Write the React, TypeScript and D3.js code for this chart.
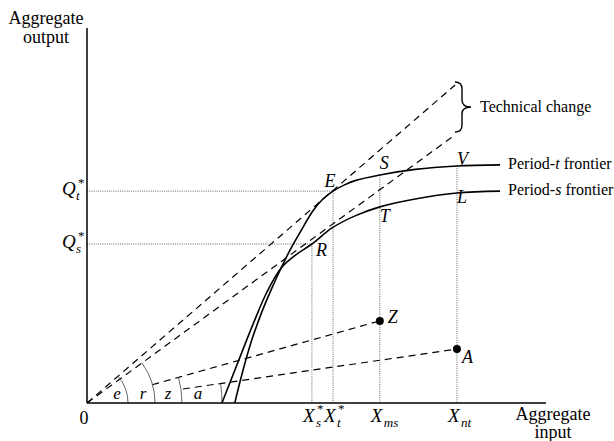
import React from "react";
import * as d3 from "d3";

// frontiers, [aggregate input, aggregate output]
const periodS: [number, number][] = [
  [29.4, 0], [32.9, 10.9], [36.2, 21.1], [39.2, 29.6], [42.3, 36.0], [45.5, 39.5],
  [49.0, 42.4], [53.4, 46.7], [58.4, 49.9], [63.8, 52.3], [71.5, 54.4], [80.6, 56.0], [90.0, 56.5],
];
const periodT: [number, number][] = [
  [32.2, 0], [34.0, 8.8], [35.9, 16.8], [38.1, 24.3], [40.3, 30.7], [42.3, 36.0], [44.2, 40.7],
  [46.8, 46.3], [49.2, 51.2], [51.4, 54.4], [53.6, 56.5], [56.0, 58.1], [58.4, 59.3], [63.8, 60.8],
  [71.5, 62.3], [80.6, 63.2], [90.0, 63.5],
];

// input levels and output levels on the axes
const inputLevels = [
  { value: 49.0, sub: "s", star: true },
  { value: 53.6, sub: "t", star: true },
  { value: 63.8, sub: "ms", star: false },
  { value: 80.6, sub: "nt", star: false },
];
const outputLevels = [
  { value: 56.5, sub: "t" },
  { value: 42.4, sub: "s" },
];

// labelled points
const pointNames = ["E", "R", "S", "T", "V", "L", "Z", "A"];
const pointX = [53.6, 49.0, 63.8, 63.8, 80.6, 80.6, 63.8, 80.6];
const pointY = [56.5, 42.4, 60.8, 52.3, 63.2, 56.0, 21.9, 14.4];

// rays from the origin: name, start input, end point
const rayNames = ["e", "r", "z", "a"];
const rayStart = [0, 0, 14.2, 20.9];
const rayEnd: [number, number][] = [[80.2, 84.8], [80.2, 71.5], [63.8, 21.9], [80.6, 14.4]];

const W = 614;
const H = 441;
const serif = "'Liberation Serif', 'Times New Roman', 'DejaVu Serif', serif";

const x = d3.scaleLinear().domain([0, 100]).range([87, 546]);
const y = d3.scaleLinear().domain([0, 100]).range([403, 28]);

const line = d3.line<[number, number]>()
  .x(d => x(d[0]))
  .y(d => y(d[1]))
  .curve(d3.curveCatmullRom.alpha(0.5));

const arcRadius = [41, 68, 95, 135];
const arcLabelR = [30, 56, 81, 111];

const labelOffset: Record<string, [number, number, string]> = {
  E: [-3, -4, "middle"],
  R: [4, 12, "start"],
  S: [0, -6, "start"],
  T: [0, 15, "start"],
  V: [0, -1, "start"],
  L: [0, 10, "start"],
  Z: [8, 2, "start"],
  A: [5, 14, "start"],
};

export default function App() {
  const ox = x(0), oy = y(0);
  const levelTop = (v: number) => {
    // dotted vertical goes up to E, R, S or V
    const i = pointX.findIndex((p, k) => p === v && ["E", "R", "S", "V"].includes(pointNames[k]));
    return y(pointY[i]);
  };

  return (
    <div style={{ position: "absolute", left: 0, top: 0 }}>
      <svg width={W} height={H} style={{ display: "block", background: "#fff", fontFamily: serif }}>
        {/* dotted guides */}
        <g stroke="#666" strokeWidth={1} strokeDasharray="1,1.2" fill="none">
          {outputLevels.map((q, i) => (
            <line key={"h" + i} x1={ox} x2={x(inputLevels[1 - i].value)} y1={y(q.value)} y2={y(q.value)} />
          ))}
          {inputLevels.map((l, i) => (
            <line key={"v" + i} x1={x(l.value)} x2={x(l.value)} y1={levelTop(l.value)} y2={oy} />
          ))}
        </g>

        {/* rays */}
        <g stroke="#000" strokeWidth={1.2} strokeDasharray="7,5" fill="none">
          {rayNames.map((n, i) => {
            const [ex, ey] = rayEnd[i];
            const t = rayStart[i] / ex;
            return (
              <line key={n} x1={x(ex * t)} y1={y(ey * t)} x2={x(ex)} y2={y(ey)} />
            );
          })}
        </g>

        {/* angle arcs */}
        <g stroke="#555" strokeWidth={0.9} fill="none">
          {rayNames.map((n, i) => {
            const [ex, ey] = rayEnd[i];
            const ang = Math.atan2(oy - y(ey), x(ex) - ox);
            const r = arcRadius[i];
            const arc = d3.path();
            arc.moveTo(ox + r, oy);
            arc.arc(ox, oy, r, 0, -ang, true);
            return <path key={n} d={arc.toString()} />;
          })}
        </g>
        {rayNames.map((n, i) => (
          <text key={n} x={ox + arcLabelR[i]} y={oy - 4} fontSize={17} fontStyle="italic" textAnchor="middle">{n}</text>
        ))}

        {/* frontiers */}
        <path d={line(periodS) ?? ""} fill="none" stroke="#000" strokeWidth={1.6} />
        <path d={line(periodT) ?? ""} fill="none" stroke="#000" strokeWidth={1.6} />

        {/* axes */}
        <line x1={ox} x2={ox} y1={y(100)} y2={oy} stroke="#000" strokeWidth={1.5} />
        <line x1={ox} x2={x(100)} y1={oy} y2={oy} stroke="#000" strokeWidth={1.5} />

        {/* points Z and A */}
        {pointNames.map((n, i) => (n === "Z" || n === "A") ? (
          <circle key={n} cx={x(pointX[i])} cy={y(pointY[i])} r={4} fill="#000" />
        ) : null)}

        {/* point labels */}
        {pointNames.map((n, i) => {
          const [dx, dy, anchor] = labelOffset[n];
          return (
            <text key={n} x={x(pointX[i]) + dx} y={y(pointY[i]) + dy} fontSize={18} fontStyle="italic" textAnchor={anchor as any}>{n}</text>
          );
        })}

        {/* brace */}
        <path d={`M455,82 Q462,82 462,89 L462,100 Q462,107 471,107 Q462,107 462,114 L462,125 Q462,132 455,132`} fill="none" stroke="#000" strokeWidth={1.4} />
        <text x={480} y={112} fontSize={16}>Technical change</text>
        <text x={x(periodT[periodT.length - 1][0]) + 8} y={y(periodT[periodT.length - 1][1]) + 4} fontSize={16}>
          Period-<tspan fontStyle="italic">t</tspan> frontier
        </text>
        <text x={x(periodS[periodS.length - 1][0]) + 8} y={y(periodS[periodS.length - 1][1]) + 4} fontSize={16}>
          Period-<tspan fontStyle="italic">s</tspan> frontier
        </text>

        {/* axis labels */}
        <text x={46} y={24} fontSize={18} textAnchor="middle">Aggregate</text>
        <text x={46} y={43} fontSize={18} textAnchor="middle">output</text>
        <text x={553} y={420} fontSize={18} textAnchor="middle">Aggregate</text>
        <text x={553} y={438} fontSize={18} textAnchor="middle">input</text>
        <text x={ox - 3} y={424} fontSize={18} textAnchor="middle">0</text>

        {/* Q labels */}
        {outputLevels.map((q, i) => (
          <g key={"q" + i} fontStyle="italic">
            <text x={62} y={y(q.value) + 4} fontSize={19}>Q</text>
            <text x={76} y={y(q.value) + 9} fontSize={13}>{q.sub}</text>
            <text x={78} y={y(q.value) - 4} fontSize={13} fontStyle="normal">*</text>
          </g>
        ))}

        {/* X labels */}
        {inputLevels.map((l, i) => (
          <g key={"x" + i} fontStyle="italic">
            <text x={x(l.value) - 9} y={422} fontSize={19}>X</text>
            <text x={x(l.value) + 4} y={427} fontSize={13}>{l.sub}</text>
            {l.star && <text x={x(l.value) + 5} y={413} fontSize={13} fontStyle="normal">*</text>}
          </g>
        ))}
      </svg>
    </div>
  );
}
